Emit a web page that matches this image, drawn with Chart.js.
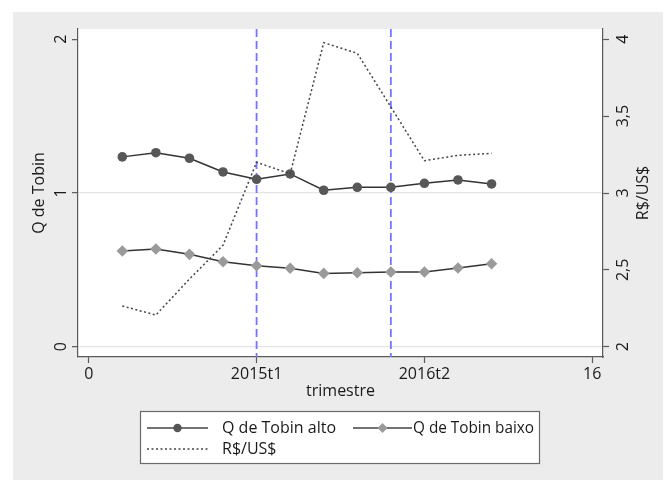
<!DOCTYPE html>
<html>
<head>
<meta charset="utf-8">
<script src="https://cdn.jsdelivr.net/npm/chart.js@4/dist/chart.umd.min.js"></script>
<style>
    html, body { margin: 0; padding: 0; background: #fff; }
</style>
</head>
<body>
<canvas id="grafico" width="665" height="480"></canvas>
<script>
// dados (posição no eixo x = índice do trimestre)
const trimestres = [1, 2, 3, 4, 5, 6, 7, 8, 9, 10, 11, 12];
const qTobinAlto = [1.235, 1.262, 1.226, 1.137, 1.089, 1.124, 1.018, 1.037, 1.037, 1.063, 1.085, 1.059];
const qTobinBaixo = [0.623, 0.636, 0.601, 0.553, 0.527, 0.510, 0.477, 0.481, 0.486, 0.486, 0.512, 0.540];
const cambio = [2.265, 2.206, 2.44, 2.66, 3.20, 3.125, 3.978, 3.909, 3.56, 3.21, 3.245, 3.258];

const xTicks = [0, 5, 10, 15];
const xTickLabels = ['0', '2015t1', '2016t2', '16'];
const qTicks = [0, 1, 2];
const cambioTicks = [2, 2.5, 3, 3.5, 4];
const marcos = [5, 9]; // linhas verticais tracejadas

const eixoCor = '#5a5a5a';
const textoCor = '#1a1a1a';
const fonte = "'Open Sans', sans-serif";

Chart.defaults.font.family = fonte;
Chart.defaults.font.size = 16;
Chart.defaults.color = textoCor;

const pts = (ys) => trimestres.map((x, i) => ({ x, y: ys[i] }));

const fundo = {
    id: 'fundo',
    beforeDraw(chart) {
        const { ctx, chartArea: a } = chart;
        ctx.save();
        ctx.fillStyle = '#fff';
        ctx.fillRect(0, 0, chart.width, chart.height);
        ctx.fillStyle = '#ececec';
        ctx.fillRect(13, 12, chart.width - 15, chart.height - 12);
        ctx.fillStyle = '#fff';
        ctx.fillRect(a.left, a.top, a.right - a.left, a.bottom - a.top);
        ctx.restore();
    },
};

const linhasMarco = {
    id: 'linhasMarco',
    beforeDatasetsDraw(chart) {
        const { ctx, chartArea: a } = chart;
        const xs = chart.scales.x;
        ctx.save();
        ctx.strokeStyle = '#7474ff';
        ctx.lineWidth = 1.8;
        ctx.setLineDash([8, 4]);
        ctx.beginPath();
        marcos.forEach((v) => {
            const px = xs.getPixelForValue(v);
            ctx.moveTo(px, a.top);
            ctx.lineTo(px, a.bottom);
        });
        ctx.stroke();
        ctx.restore();
    },
};

const extras = {
    id: 'extras',
    afterDraw(chart) {
        const { ctx } = chart;
        const s = chart.scales.y2;

        // título do eixo direito, lido de baixo para cima
        ctx.save();
        ctx.translate(s.right - 22, (s.top + s.bottom) / 2);
        ctx.rotate(-Math.PI / 2);
        ctx.font = `16px ${fonte}`;
        ctx.fillStyle = textoCor;
        ctx.textAlign = 'center';
        ctx.textBaseline = 'middle';
        ctx.fillText('R$/US$', 0, 0);
        ctx.restore();

        // legenda
        const bx = 140, by = 411, bw = 399, bh = 52;
        const r1 = 428, r2 = 449;
        ctx.save();
        ctx.fillStyle = '#fff';
        ctx.fillRect(bx, by, bw, bh);
        ctx.strokeStyle = '#6a6a6a';
        ctx.lineWidth = 1.2;
        ctx.strokeRect(bx + 0.5, by + 0.5, bw, bh);

        ctx.lineWidth = 1.5;
        ctx.strokeStyle = '#444';
        ctx.beginPath();
        ctx.moveTo(147, r1); ctx.lineTo(208, r1);
        ctx.moveTo(353, r1); ctx.lineTo(412, r1);
        ctx.stroke();

        ctx.fillStyle = '#555';
        ctx.beginPath();
        ctx.arc(177.5, r1, 4.2, 0, Math.PI * 2);
        ctx.fill();

        ctx.fillStyle = '#9a9a9a';
        ctx.beginPath();
        ctx.moveTo(382.5 - 5, r1); ctx.lineTo(382.5, r1 - 5);
        ctx.lineTo(382.5 + 5, r1); ctx.lineTo(382.5, r1 + 5);
        ctx.closePath();
        ctx.fill();

        ctx.strokeStyle = '#444';
        ctx.setLineDash([2, 2.5]);
        ctx.beginPath();
        ctx.moveTo(147, r2); ctx.lineTo(208, r2);
        ctx.stroke();
        ctx.setLineDash([]);

        ctx.font = `16px ${fonte}`;
        ctx.fillStyle = textoCor;
        ctx.textAlign = 'left';
        ctx.textBaseline = 'middle';
        ctx.fillText('Q de Tobin alto', 222, r1);
        ctx.fillText('Q de Tobin baixo', 413, r1, 121);
        ctx.fillText('R$/US$', 222, r2);
        ctx.restore();
    },
};

new Chart(document.getElementById('grafico'), {
    type: 'line',
    data: {
        datasets: [
            {
                label: 'R$/US$',
                data: pts(cambio),
                yAxisID: 'y2',
                borderColor: '#444',
                borderWidth: 1.5,
                borderDash: [2, 2.5],
                pointRadius: 0,
                tension: 0,
                order: 0,
            },
            {
                label: 'Q de Tobin alto',
                data: pts(qTobinAlto),
                yAxisID: 'y',
                borderColor: '#333',
                borderWidth: 1.5,
                pointStyle: 'circle',
                pointRadius: 4.8,
                pointBackgroundColor: '#575757',
                pointBorderColor: '#575757',
                pointBorderWidth: 0,
                tension: 0,
                order: 1,
            },
            {
                label: 'Q de Tobin baixo',
                data: pts(qTobinBaixo),
                yAxisID: 'y',
                borderColor: '#333',
                borderWidth: 1.5,
                pointStyle: 'rectRot',
                pointRadius: 5.8,
                pointBackgroundColor: '#9a9a9a',
                pointBorderColor: '#9a9a9a',
                pointBorderWidth: 0,
                tension: 0,
                order: 2,
            },
        ],
    },
    options: {
        responsive: false,
        animation: false,
        devicePixelRatio: 1,
        layout: { padding: { top: 29, bottom: 73, left: 0, right: 0 } },
        plugins: {
            legend: { display: false },
            tooltip: { enabled: false },
        },
        scales: {
            x: {
                type: 'linear',
                min: -0.32,
                max: 15.32,
                afterBuildTicks: (s) => { s.ticks = xTicks.map((v) => ({ value: v })); },
                afterFit: (s) => { s.height = 50; },
                ticks: {
                    padding: 2,
                    autoSkip: false,
                    maxRotation: 0,
                    callback: (v, i) => xTickLabels[i],
                },
                grid: { drawOnChartArea: false, tickLength: 6, tickColor: eixoCor, tickWidth: 1.2 },
                border: { color: eixoCor, width: 1.2 },
                title: { display: true, text: 'trimestre', padding: { top: 0, bottom: 6 } },
            },
            y: {
                position: 'left',
                min: -0.067,
                max: 2.067,
                afterBuildTicks: (s) => { s.ticks = qTicks.map((v) => ({ value: v })); },
                afterFit: (s) => { s.width = 78; },
                ticks: {
                    minRotation: 90,
                    maxRotation: 90,
                    crossAlign: 'center',
                    padding: 6,
                    callback: (v) => String(v),
                },
                grid: {
                    color: (c) => (c.tick && c.tick.value === 2 ? 'rgba(0,0,0,0)' : '#e4e4e4'),
                    lineWidth: 1.3,
                    tickLength: 6,
                    tickColor: eixoCor,
                    tickWidth: 1.2,
                },
                border: { color: eixoCor, width: 1.2 },
                title: { display: true, text: 'Q de Tobin', padding: { top: 30, bottom: 0 } },
            },
            y2: {
                position: 'right',
                min: 1.933,
                max: 4.067,
                afterBuildTicks: (s) => { s.ticks = cambioTicks.map((v) => ({ value: v })); },
                afterFit: (s) => { s.width = 62; },
                ticks: {
                    minRotation: 90,
                    maxRotation: 90,
                    crossAlign: 'center',
                    padding: 3,
                    callback: (v) => String(v).replace('.', ','),
                },
                grid: { drawOnChartArea: false, tickLength: 6, tickColor: eixoCor, tickWidth: 1.2 },
                border: { color: eixoCor, width: 1.2 },
            },
        },
    },
    plugins: [fundo, linhasMarco, extras],
});
</script>
</body>
</html>
